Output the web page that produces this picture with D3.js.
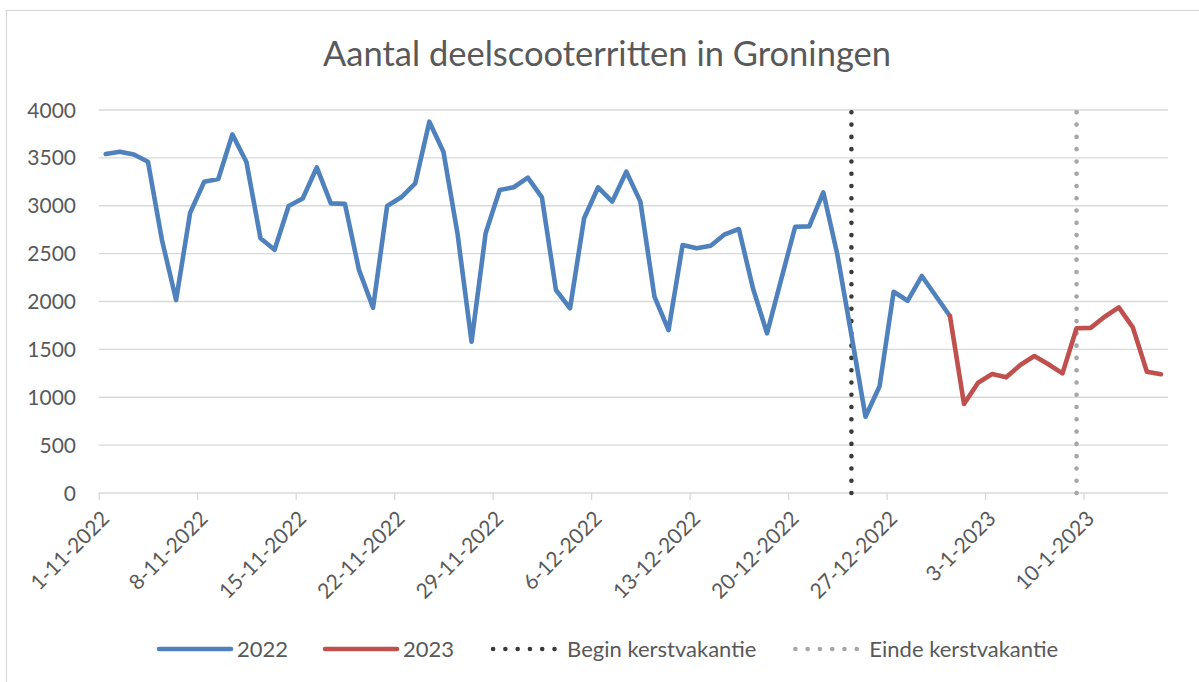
<!DOCTYPE html>
<html>
<head>
<meta charset="utf-8">
<script src="https://cdn.jsdelivr.net/npm/d3@7"></script>
<style>
  html, body { margin: 0; padding: 0; background: #fff; }
  svg { display: block; }
  text { font-family: Lato, "Open Sans", sans-serif; fill: #595959; }
</style>
</head>
<body>
<svg id="chart" width="1199" height="682"></svg>
<script>
// ---- data ----
const dates = [
  "1-11-2022","2-11-2022","3-11-2022","4-11-2022","5-11-2022","6-11-2022","7-11-2022",
  "8-11-2022","9-11-2022","10-11-2022","11-11-2022","12-11-2022","13-11-2022","14-11-2022",
  "15-11-2022","16-11-2022","17-11-2022","18-11-2022","19-11-2022","20-11-2022","21-11-2022",
  "22-11-2022","23-11-2022","24-11-2022","25-11-2022","26-11-2022","27-11-2022","28-11-2022",
  "29-11-2022","30-11-2022","1-12-2022","2-12-2022","3-12-2022","4-12-2022","5-12-2022",
  "6-12-2022","7-12-2022","8-12-2022","9-12-2022","10-12-2022","11-12-2022","12-12-2022",
  "13-12-2022","14-12-2022","15-12-2022","16-12-2022","17-12-2022","18-12-2022","19-12-2022",
  "20-12-2022","21-12-2022","22-12-2022","23-12-2022","24-12-2022","25-12-2022","26-12-2022",
  "27-12-2022","28-12-2022","29-12-2022","30-12-2022","31-12-2022"
];
const ritten2022 = [
  3540,3565,3535,3460,2640,2015,2927,
  3250,3280,3745,3457,2660,2540,2997,
  3075,3400,3025,3020,2330,1935,2997,
  3088,3234,3878,3565,2712,1580,2712,
  3164,3193,3293,3088,2120,1929,2869,
  3193,3043,3356,3043,2050,1702,2590,
  2555,2583,2702,2757,2138,1668,2225,
  2781,2785,3140,2490,1650,797,1115,
  2102,2008,2266,2057,1849
];
const dates2023 = [
  "31-12-2022","1-1-2023","2-1-2023","3-1-2023","4-1-2023","5-1-2023","6-1-2023","7-1-2023",
  "8-1-2023","9-1-2023","10-1-2023","11-1-2023","12-1-2023","13-1-2023","14-1-2023","15-1-2023"
];
const ritten2023 = [1849,930,1152,1243,1208,1337,1431,1344,1250,1720,1725,1841,1939,1730,1267,1240];
const tickLabels = ["1-11-2022","8-11-2022","15-11-2022","22-11-2022","29-11-2022","6-12-2022",
  "13-12-2022","20-12-2022","27-12-2022","3-1-2023","10-1-2023"];
const yTicks = [0,500,1000,1500,2000,2500,3000,3500,4000];
const beginKerst = "24-12-2022";
const eindeKerst = "9-1-2023";
const axisStart = "1-11-2022";
const axisEnd = "16-1-2023";
const title = "Aantal deelscooterritten in Groningen";
const legendItems = ["2022","2023","Begin kerstvakantie","Einde kerstvakantie"];

// ---- setup ----
const parse = d3.timeParse("%d-%m-%Y");
const svg = d3.select("#chart");
const plot = { left: 98.7, right: 1168, top: 110, bottom: 493 };

svg.append("rect").attr("x", 6.5).attr("y", 10.5).attr("width", 1300).attr("height", 1000)
  .attr("fill", "#fff").attr("stroke", "#d9d9d9").attr("stroke-width", 1.2);

const x = d3.scaleTime().domain([parse(axisStart), parse(axisEnd)]).range([plot.left, plot.right]);
const xc = s => x(d3.timeHour.offset(parse(s), 12));
const y = d3.scaleLinear().domain([0, 4000]).range([plot.bottom, plot.top]);

// gridlines
svg.append("g").selectAll("line").data(yTicks).join("line")
  .attr("x1", plot.left).attr("x2", plot.right)
  .attr("y1", d => y(d)).attr("y2", d => y(d))
  .attr("stroke", "#d9d9d9").attr("stroke-width", 1.3);

// y labels
svg.append("g").selectAll("text").data(yTicks).join("text")
  .attr("x", 76).attr("y", d => y(d)).attr("dy", "0.36em")
  .attr("text-anchor", "end").style("font-size", "21px").text(d => d);

// x ticks
const tickDates = tickLabels.map(parse);
const xAxis = d3.axisBottom(x).tickValues(tickDates).tickSize(7).tickFormat("");
const gx = svg.append("g").attr("transform", `translate(0,${plot.bottom})`).call(xAxis);
gx.select(".domain").remove();
gx.selectAll(".tick line").attr("stroke", "#d9d9d9").attr("stroke-width", 1.3);

// x labels rotated
svg.append("g").selectAll("text").data(tickLabels).join("text")
  .attr("transform", d => `translate(${x(parse(d)) + 12},${plot.bottom + 27}) rotate(-45)`)
  .attr("text-anchor", "end").style("font-size", "21px").text(d => d);

// vacation lines
function vline(dateStr, color) {
  svg.append("line")
    .attr("x1", xc(dateStr)).attr("x2", xc(dateStr))
    .attr("y1", y(0)).attr("y2", y(4000))
    .attr("stroke", color).attr("stroke-width", 4.6)
    .attr("stroke-linecap", "round").attr("stroke-dasharray", "0.01 12.27");
}
vline(beginKerst, "#3a3a3a");
vline(eindeKerst, "#a6a6a6");

// series
const line = d3.line().x(d => xc(d[0])).y(d => y(d[1]));
svg.append("path").datum(dates.map((d, i) => [d, ritten2022[i]]))
  .attr("d", line).attr("fill", "none").attr("stroke", "#4f81bd").attr("stroke-width", 4.6)
  .attr("stroke-linejoin", "round").attr("stroke-linecap", "round");
svg.append("path").datum(dates2023.map((d, i) => [d, ritten2023[i]]))
  .attr("d", line).attr("fill", "none").attr("stroke", "#c0504d").attr("stroke-width", 4.6)
  .attr("stroke-linejoin", "round").attr("stroke-linecap", "round");

// title
svg.append("text").attr("x", 607).attr("y", 66).attr("text-anchor", "middle")
  .style("font-size", "34.5px").text(title);

// legend
const legendStyles = [
  { color: "#4f81bd", dash: null },
  { color: "#c0504d", dash: null },
  { color: "#3a3a3a", dash: "0.01 12.27" },
  { color: "#a6a6a6", dash: "0.01 12.27" }
];
let lx = 159;
const ly = 649;
legendItems.forEach((name, i) => {
  const st = legendStyles[i];
  const l = svg.append("line").attr("x1", st.dash ? lx + 2 : lx).attr("x2", lx + (st.dash ? 64 : 72))
    .attr("y1", ly).attr("y2", ly).attr("stroke", st.color).attr("stroke-width", 4.6)
    .attr("stroke-linecap", "round");
  if (st.dash) l.attr("stroke-dasharray", st.dash);
  const tx = lx + (st.dash ? 76 : 78);
  const t = svg.append("text").attr("x", tx).attr("y", ly).attr("dy", "0.36em")
    .style("font-size", "22px").text(name);
  lx = tx + t.node().getComputedTextLength() + 37;
});
</script>
</body>
</html>
